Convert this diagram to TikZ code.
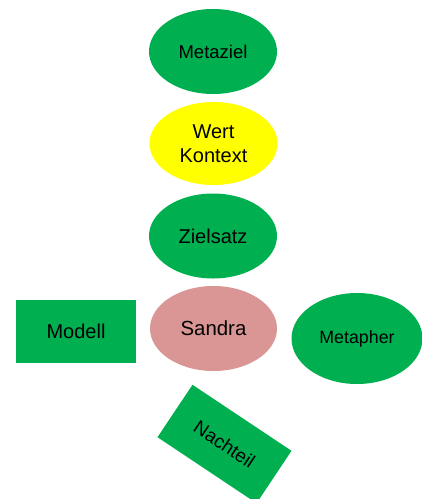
\documentclass[tikz,border=0pt]{standalone}
\usepackage{fontspec}
\setmainfont{Liberation Sans}
\usetikzlibrary{shapes.geometric}
\definecolor{offgreen}{RGB}{0,176,80}
\definecolor{offyellow}{RGB}{255,255,0}
\definecolor{offpink}{RGB}{217,150,148}
\tikzset{
  oval/.style={ellipse, inner sep=0pt, minimum width=128pt, minimum height=85pt, align=center},
  box/.style={rectangle, inner sep=0pt, minimum width=120pt, minimum height=63pt, fill=offgreen},
}
\begin{document}
\begin{tikzpicture}[x=1pt,y=-1pt]
\useasboundingbox (0,0) rectangle (422,499);
\node[oval, fill=offgreen, font=\fontsize{18.5}{22}\selectfont] (metaziel) at (213,51.5) {Metaziel};
\node[oval, fill=offyellow, minimum height=83pt, font=\fontsize{20}{24}\selectfont] (wert) at (213.5,143.5) {Wert\\Kontext};
\node[oval, fill=offgreen, font=\fontsize{20}{24}\selectfont] (zielsatz) at (213,236) {Zielsatz};
\node[oval, fill=offpink, minimum width=127pt, font=\fontsize{20.4}{24}\selectfont] (sandra) at (213.5,328.5) {Sandra};
\node[box, font=\fontsize{20}{24}\selectfont] (modell) at (76,331.5) {Modell};
\node[oval, fill=offgreen, minimum width=131pt, minimum height=91pt, font=\fontsize{17.8}{22}\selectfont] (metapher) at (357,338.5) {Metapher};
\node[box, minimum width=119pt, rotate=-33.7, font=\fontsize{19}{23}\selectfont] (nachteil) at (224.5,444) {Nachteil};
\end{tikzpicture}
\end{document}
